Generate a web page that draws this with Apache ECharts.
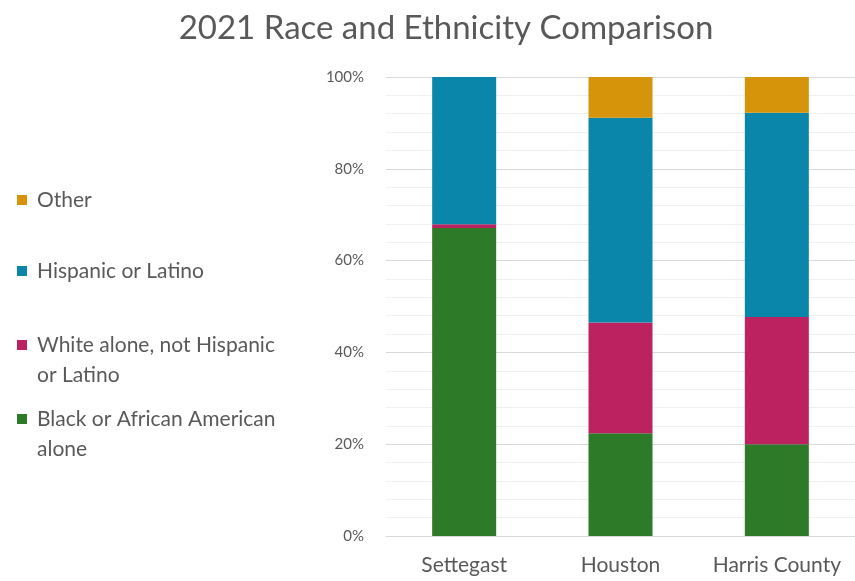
<!DOCTYPE html>
<html>
<head>
<meta charset="utf-8">
<script src="https://cdn.jsdelivr.net/npm/echarts@6/dist/echarts.min.js"></script>
<style>
  html, body { margin: 0; padding: 0; background: #fff; }
  #chart { width: 855px; height: 581px; }
</style>
</head>
<body>
<div id="chart"></div>
<script>
var places = ['Settegast', 'Houston', 'Harris County'];
var black = [67.1, 22.4, 20.0];
var white = [0.8, 24.1, 27.7];
var hispanic = [32.1, 44.6, 44.5];
var other = [0, 8.9, 7.8];
var yTicks = [0, 20, 40, 60, 80, 100];

var names = {
    black: 'Black or African American\nalone',
    white: 'White alone, not Hispanic\nor Latino',
    hispanic: 'Hispanic or Latino',
    other: 'Other'
};
var colors = {
    black: '#2d7a28',
    white: '#bc2260',
    hispanic: '#0b86ab',
    other: '#d5940a'
};
var font = 'Lato';
var grey = '#595959';

function bar(key, data) {
    return {
        name: names[key],
        type: 'bar',
        stack: 'all',
        barWidth: 64,
        itemStyle: { color: colors[key] },
        data: data
    };
}

// one legend per entry so the gaps match the picture.
// two line names get a tall icon box with the square at its top,
// so the square sits next to the first line
function legendAt(key, top, twoLines) {
    return {
        data: [names[key]],
        orient: 'vertical',
        left: 17,
        top: top,
        padding: 0,
        itemWidth: 10,
        itemHeight: twoLines ? 40 : 10,
        icon: twoLines ? 'path://M0,40M0,0L10,0L10,10L0,10Z' : 'rect',
        selectedMode: false,
        textStyle: {
            color: grey,
            fontFamily: font,
            fontSize: 21,
            lineHeight: 30,
            padding: [0, 0, 0, 5]
        }
    };
}

var myChart = echarts.init(document.getElementById('chart'));
myChart.setOption({
    animation: false,
    title: {
        text: '2021 Race and Ethnicity Comparison',
        left: 441,
        textAlign: 'center',
        top: 7,
        textStyle: { color: grey, fontFamily: font, fontSize: 33, fontWeight: 'normal' }
    },
    legend: [
        legendAt('other', 185, false),
        legendAt('hispanic', 256, false),
        legendAt('white', 330, true),
        legendAt('black', 404, true)
    ],
    grid: { left: 386, top: 77, width: 475, height: 459 },
    xAxis: {
        type: 'category',
        data: places,
        axisLine: { lineStyle: { color: '#d9d9d9' } },
        axisTick: { show: false },
        axisLabel: { interval: 0, color: grey, fontFamily: font, fontSize: 21, margin: 19 }
    },
    yAxis: {
        type: 'value',
        min: yTicks[0],
        max: yTicks[yTicks.length - 1],
        interval: 20,
        axisLine: { show: false },
        axisTick: { show: false },
        axisLabel: {
            color: grey, fontFamily: font, fontSize: 15, margin: 22,
            formatter: function (v) { return v + '%'; }
        },
        splitLine: { lineStyle: { color: '#d9d9d9' } },
        minorTick: { show: false, splitNumber: 5 },
        minorSplitLine: { show: true, lineStyle: { color: '#f0f0f0' } }
    },
    series: [
        bar('black', black),
        bar('white', white),
        bar('hispanic', hispanic),
        bar('other', other)
    ]
});
</script>
</body>
</html>
